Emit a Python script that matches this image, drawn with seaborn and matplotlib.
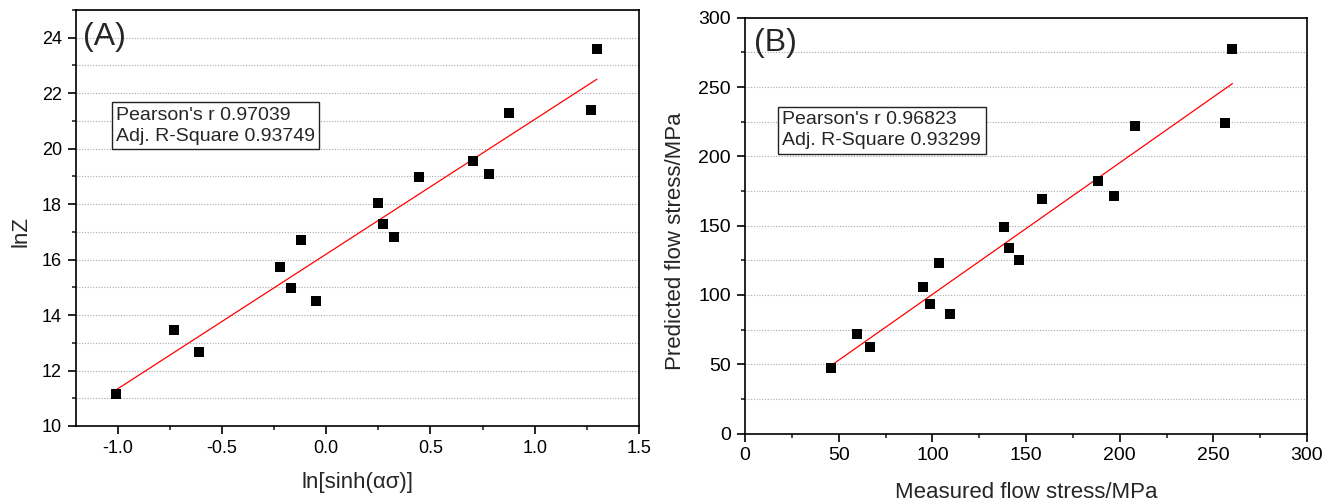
import numpy as np
import pandas as pd
import matplotlib
matplotlib.use("Agg")
import matplotlib.pyplot as plt
from matplotlib.ticker import MultipleLocator, FormatStrFormatter
import seaborn as sns

# ---- data ----
a_x = [-1.01, -0.73, -0.61, -0.22, -0.17, -0.12, -0.05, 0.248, 0.274, 0.327,
       0.446, 0.706, 0.781, 0.876, 1.268, 1.298]
a_y = [11.14, 13.46, 12.68, 15.75, 14.99, 16.69, 14.51, 18.04, 17.27, 16.80,
       18.99, 19.57, 19.10, 21.30, 21.39, 23.59]

b_x = [46.0, 60.0, 66.9, 94.8, 98.7, 103.3, 109.3, 138.0, 140.8, 146.1,
       158.7, 188.4, 197.0, 208.4, 256.0, 260.2]
b_y = [46.9, 71.6, 62.5, 105.8, 93.3, 122.8, 86.3, 149.3, 133.9, 125.0,
       169.5, 182.2, 171.6, 222.1, 224.3, 277.4]

a_label = "(A)"
b_label = "(B)"
a_stats = "Pearson's r 0.97039\nAdj. R-Square 0.93749"
b_stats = "Pearson's r 0.96823\nAdj. R-Square 0.93299"
a_xlabel = "ln[sinh(ασ)]"
a_ylabel = "lnZ"
b_xlabel = "Measured flow stress/MPa"
b_ylabel = "Predicted flow stress/MPa"

sns.set_theme(style="ticks")
plt.rcParams["font.family"] = ["Liberation Sans", "DejaVu Sans"]
plt.rcParams["axes.linewidth"] = 1.2
for k in ["xtick.major.width", "ytick.major.width",
          "xtick.minor.width", "ytick.minor.width"]:
    plt.rcParams[k] = 1.2

fig = plt.figure(figsize=(13.37, 5.03), dpi=100)
axA = fig.add_axes([76 / 1337, (503 - 426) / 503, 563 / 1337, 416 / 503])
axB = fig.add_axes([745 / 1337, (503 - 433.5) / 503, 562 / 1337, 415.8 / 503])

dfA = pd.DataFrame({"x": a_x, "y": a_y})
dfB = pd.DataFrame({"x": b_x, "y": b_y})


def draw(ax, df, xlim, ylim, xmaj, xmin, ymaj, ymin, tick_fs):
    ax.set_xlim(*xlim)
    ax.set_ylim(*ylim)
    ax.xaxis.set_major_locator(MultipleLocator(xmaj))
    ax.xaxis.set_minor_locator(MultipleLocator(xmin))
    ax.yaxis.set_major_locator(MultipleLocator(ymaj))
    ax.yaxis.set_minor_locator(MultipleLocator(ymin))
    ax.yaxis.grid(True, which="both", linestyle=(0, (1, 1.5)),
                  color="#a8a8a8", linewidth=0.8)
    ax.xaxis.grid(False)
    ax.set_axisbelow(True)
    sns.regplot(data=df, x="x", y="y", ax=ax, scatter=False, ci=None,
                truncate=True, line_kws=dict(color="red", linewidth=0.9))
    sns.scatterplot(data=df, x="x", y="y", ax=ax, marker="s", s=52,
                    color="black", linewidth=0, zorder=3)
    for sp in ax.spines.values():
        sp.set_visible(True)
        sp.set_color("black")
    ax.tick_params(which="major", direction="out", length=6, pad=4,
                   labelsize=tick_fs, colors="black")
    ax.tick_params(which="minor", direction="out", length=3)
    ax.set_xlabel("")
    ax.set_ylabel("")


draw(axA, dfA, (-1.2, 1.5), (10, 25), 0.5, 0.25, 2, 1, 13)
draw(axB, dfB, (0, 300), (0, 300), 50, 25, 50, 25, 14)

axA.xaxis.set_major_formatter(FormatStrFormatter("%.1f"))

# axis labels
label_fs = 16
axA.set_xlabel(a_xlabel, fontsize=label_fs)
axA.set_ylabel(a_ylabel, fontsize=label_fs)
axA.xaxis.set_label_coords(0.5, -0.137)
axA.xaxis.label.set_verticalalignment("center")
axA.yaxis.set_label_coords(-0.098, 0.467)
axA.yaxis.label.set_verticalalignment("center")

axB.set_xlabel(b_xlabel, fontsize=label_fs)
axB.set_ylabel(b_ylabel, fontsize=label_fs)
axB.xaxis.set_label_coords(0.5, -0.1407)
axB.xaxis.label.set_verticalalignment("center")
axB.yaxis.set_label_coords(-0.1228, 0.463)
axB.yaxis.label.set_verticalalignment("center")

# panel labels
axA.text(0.0124, 0.97, a_label, transform=axA.transAxes, fontsize=23,
         ha="left", va="top")
axB.text(0.016, 0.975, b_label, transform=axB.transAxes, fontsize=23,
         ha="left", va="top")

# stats boxes
box = dict(boxstyle="square,pad=0.22", fc="white", ec="#222222", lw=1.0)
axA.text(0.0714, 0.768, a_stats, transform=axA.transAxes, fontsize=14,
         ha="left", va="top", linespacing=1.32, bbox=box, zorder=5)
axB.text(0.0667, 0.775, b_stats, transform=axB.transAxes, fontsize=14,
         ha="left", va="top", linespacing=1.32, bbox=box, zorder=5)

fig.savefig("out.png", dpi=100)
